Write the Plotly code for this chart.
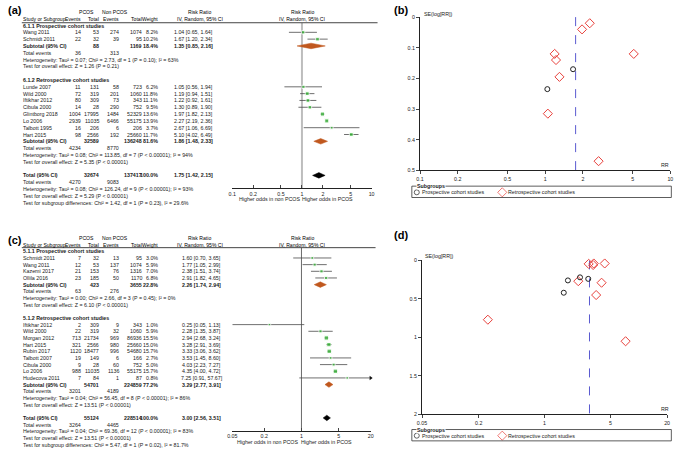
import math
import plotly.graph_objects as go

W, H = 678, 473
FONT = "Arial, Liberation Sans, sans-serif"
FONT_T = "Liberation Sans Narrow, Arial Narrow, Arial, sans-serif"
GREEN = "#2fb52f"
ORANGE = "#c0581e"
RED = "#e8413c"

# ---------------- (a) / (b) data ----------------
a_groups = ["6.1.1 Prospective cohort studies", "6.1.2 Retrospective cohort studies"]
a_study = ["Wang 2011", "Schmidt 2011", "Lunde 2007", "Wild 2000", "Iftikhar 2012",
           "Cibula 2000", "Glintborg 2018", "Lo 2006", "Talbott 1995", "Hart 2015"]
a_grp = [0, 0, 1, 1, 1, 1, 1, 1, 1, 1]
a_ev1 = [14, 22, 11, 72, 80, 14, 1004, 2939, 16, 98]
a_n1 = [53, 32, 131, 319, 309, 28, 17995, 11035, 206, 2566]
a_ev2 = [274, 39, 58, 201, 73, 290, 1484, 6466, 6, 192]
a_n2 = [1074, 95, 723, 1060, 343, 752, 52329, 55175, 206, 25660]
a_w = [8.2, 10.2, 6.2, 11.8, 11.1, 9.5, 13.6, 13.9, 3.7, 11.7]
a_rr = [1.04, 1.67, 1.05, 1.19, 1.22, 1.30, 1.97, 2.27, 2.67, 5.10]
a_lo = [0.65, 1.20, 0.56, 0.94, 0.92, 0.89, 1.82, 2.19, 1.06, 4.02]
a_hi = [1.64, 2.34, 1.94, 1.51, 1.61, 1.90, 2.13, 2.36, 6.69, 6.49]
a_se = [0.235, 0.17, 0.315, 0.12, 0.14, 0.195, 0.04, 0.02, 0.47, 0.12]
a_s_n1 = [88, 32589]
a_s_n2 = [1169, 136248]
a_s_w = [18.4, 81.6]
a_s_ev1 = [36, 4234]
a_s_ev2 = [313, 8770]
a_s_rr = [1.35, 1.86]
a_s_lo = [0.85, 1.48]
a_s_hi = [2.16, 2.33]
a_s_het = ["Heterogeneity: Tau² = 0.07; Chi² = 2.73, df = 1 (P = 0.10); I² = 63%",
           "Heterogeneity: Tau² = 0.08; Chi² = 113.85, df = 7 (P < 0.00001); I² = 94%"]
a_s_z = ["Test for overall effect: Z = 1.26 (P = 0.21)",
         "Test for overall effect: Z = 5.35 (P < 0.00001)"]
a_t_n = [32674, 137417]
a_t_ev = [4270, 9083]
a_t_ci = [1.75, 1.42, 2.15]
a_t_notes = ["Heterogeneity: Tau² = 0.08; Chi² = 126.24, df = 9 (P < 0.00001); I² = 93%",
             "Test for overall effect: Z = 5.29 (P < 0.00001)",
             "Test for subgroup differences: Chi² = 1.42, df = 1 (P = 0.23), I² = 29.6%"]
a_ticks = [0.1, 0.2, 0.5, 1, 2, 5, 10]
b_se_ticks = [0, 0.1, 0.2, 0.3, 0.4, 0.5]

# ---------------- (c) / (d) data ----------------
c_groups = ["5.1.1 Prospective cohort studies", "5.1.2 Retrospective cohort studies"]
c_study = ["Schmidt 2011", "Wang 2011", "Kazemi 2017", "Ollila 2016", "Iftikhar 2012",
           "Wild 2000", "Morgan 2012", "Hart 2015", "Rubin 2017", "Talbott 2007",
           "Cibula 2000", "Lo 2006", "Hudecova 2011"]
c_grp = [0, 0, 0, 0, 1, 1, 1, 1, 1, 1, 1, 1, 1]
c_ev1 = [7, 12, 21, 23, 2, 22, 713, 321, 1120, 19, 9, 988, 7]
c_n1 = [32, 53, 153, 185, 309, 319, 21734, 2566, 18477, 149, 28, 11035, 84]
c_ev2 = [13, 137, 76, 50, 9, 32, 969, 980, 996, 6, 60, 1136, 1]
c_n2 = [95, 1074, 1316, 1170, 343, 1060, 86936, 25660, 54680, 166, 752, 55175, 87]
c_w = [3.0, 5.9, 7.0, 6.8, 1.0, 5.9, 15.5, 15.0, 15.7, 2.7, 5.0, 15.7, 0.8]
c_rr = [1.60, 1.77, 2.38, 2.91, 0.25, 2.28, 2.94, 3.28, 3.33, 3.53, 4.03, 4.35, 7.25]
c_lo = [0.70, 1.05, 1.51, 1.82, 0.05, 1.35, 2.68, 2.91, 3.06, 1.45, 2.23, 4.00, 0.91]
c_hi = [3.65, 2.99, 3.74, 4.65, 1.13, 3.87, 3.24, 3.69, 3.62, 8.60, 7.27, 4.72, 57.67]
c_se = [0.42, 0.26, 0.22, 0.24, 0.77, 0.27, 0.045, 0.06, 0.04, 0.45, 0.29, 0.04, 1.05]
c_s_n1 = [423, 54701]
c_s_n2 = [3655, 224859]
c_s_w = [22.8, 77.2]
c_s_ev1 = [63, 3201]
c_s_ev2 = [276, 4189]
c_s_rr = [2.26, 3.29]
c_s_lo = [1.74, 2.77]
c_s_hi = [2.94, 3.91]
c_s_het = ["Heterogeneity: Tau² = 0.00; Chi² = 2.66, df = 3 (P = 0.45); I² = 0%",
           "Heterogeneity: Tau² = 0.04; Chi² = 56.45, df = 8 (P < 0.00001); I² = 86%"]
c_s_z = ["Test for overall effect: Z = 6.10 (P < 0.00001)",
         "Test for overall effect: Z = 13.51 (P < 0.00001)"]
c_t_n = [55124, 228514]
c_t_ev = [3264, 4465]
c_t_ci = [3.00, 2.56, 3.51]
c_t_notes = ["Heterogeneity: Tau² = 0.04; Chi² = 69.36, df = 12 (P < 0.00001); I² = 83%",
             "Test for overall effect: Z = 13.51 (P < 0.00001)",
             "Test for subgroup differences: Chi² = 5.47, df = 1 (P = 0.02), I² = 81.7%"]
c_ticks = [0.05, 0.2, 1, 5, 20]
d_se_ticks = [0, 0.5, 1, 1.5, 2]

A = dict(groups=a_groups, study=a_study, grp=a_grp, ev1=a_ev1, n1=a_n1, ev2=a_ev2, n2=a_n2,
         w=a_w, rr=a_rr, lo=a_lo, hi=a_hi, se=a_se, s_n1=a_s_n1, s_n2=a_s_n2, s_w=a_s_w,
         s_ev1=a_s_ev1, s_ev2=a_s_ev2, s_rr=a_s_rr, s_lo=a_s_lo, s_hi=a_s_hi, s_het=a_s_het,
         s_z=a_s_z, t_n=a_t_n, t_ev=a_t_ev, t_ci=a_t_ci, t_notes=a_t_notes)
C = dict(groups=c_groups, study=c_study, grp=c_grp, ev1=c_ev1, n1=c_n1, ev2=c_ev2, n2=c_n2,
         w=c_w, rr=c_rr, lo=c_lo, hi=c_hi, se=c_se, s_n1=c_s_n1, s_n2=c_s_n2, s_w=c_s_w,
         s_ev1=c_s_ev1, s_ev2=c_s_ev2, s_rr=c_s_rr, s_lo=c_s_lo, s_hi=c_s_hi, s_het=c_s_het,
         s_z=c_s_z, t_n=c_t_n, t_ev=c_t_ev, t_ci=c_t_ci, t_notes=c_t_notes)

COLS = [77.5, 96.5, 116, 140, 156]  # right edges of the number columns
NAME_X = 17.5
FS = 5.3
HS = 5.1  # header rows

fig = go.Figure()
ann, shapes = [], []


def px(x):
    return x / W


def py(y):
    return 1 - y / H


def txt(x, y, s, anchor="left", size=FS, bold=False, color="#1a1a1a", bg=None, family=FONT_T):
    s = str(s)
    d = dict(x=px(x), y=py(y), xref="paper", yref="paper", text="<b>%s</b>" % s if bold else s,
             showarrow=False, xanchor=anchor, yanchor="middle", borderpad=0,
             font=dict(size=size, color=color, family=family))
    if bg:
        d["bgcolor"] = bg
    ann.append(d)


def ci(r, l, h):
    return "%.2f [%.2f, %.2f]" % (r, l, h)


def table(p, top, step, rr_x):
    row = lambda i: top + i * step
    txt(82, row(0), "PCOS", "center", size=HS, color="#000")
    txt(111, row(0), "Non PCOS", "center", size=HS, color="#000")
    txt(197, row(0), "Risk Ratio", "center", size=HS, color="#000")
    txt(NAME_X, row(1), "Study or Subgroup", size=HS, color="#000")
    for x, s in zip(COLS, ["Events", "Total", "Events", "Total", "Weight"]):
        txt(x, row(1), s, "right", size=HS, color="#000")
    txt(197, row(1), "IV, Random, 95% CI", "center", size=HS, color="#000")

    ys, sub_y = {}, []
    i = 2
    for g, name in enumerate(p["groups"]):
        txt(NAME_X, row(i), name, bold=True)
        i += 1
        for j, gj in enumerate(p["grp"]):
            if gj != g:
                continue
            y = row(i)
            ys[j] = y
            txt(NAME_X, y, p["study"][j])
            vals = [p["ev1"][j], p["n1"][j], p["ev2"][j], p["n2"][j], "%.1f%%" % p["w"][j]]
            for x, v in zip(COLS, vals):
                txt(x, y, v, "right")
            txt(rr_x, y, ci(p["rr"][j], p["lo"][j], p["hi"][j]), "center")
            i += 1
        y = row(i)
        sub_y.append(y)
        txt(NAME_X, y, "Subtotal (95% CI)", bold=True)
        txt(COLS[1], y, p["s_n1"][g], "right", bold=True)
        txt(COLS[3], y, p["s_n2"][g], "right", bold=True)
        txt(COLS[4], y, "%.1f%%" % p["s_w"][g], "right", bold=True)
        txt(rr_x, y, ci(p["s_rr"][g], p["s_lo"][g], p["s_hi"][g]), "center", bold=True)
        i += 1
        y = row(i)
        txt(NAME_X, y, "Total events")
        txt(COLS[0], y, p["s_ev1"][g], "right")
        txt(COLS[2], y, p["s_ev2"][g], "right")
        i += 1
        txt(NAME_X, row(i), p["s_het"][g])
        i += 1
        txt(NAME_X, row(i), p["s_z"][g])
        i += 2
    tot_y = row(i)
    txt(NAME_X, tot_y, "Total (95% CI)", bold=True)
    txt(COLS[1], tot_y, p["t_n"][0], "right", bold=True)
    txt(COLS[3], tot_y, p["t_n"][1], "right", bold=True)
    txt(COLS[4], tot_y, "100.0%", "right", bold=True)
    txt(rr_x, tot_y, ci(*p["t_ci"]), "center", bold=True)
    i += 1
    txt(NAME_X, row(i), "Total events")
    txt(COLS[0], row(i), p["t_ev"][0], "right")
    txt(COLS[2], row(i), p["t_ev"][1], "right")
    i += 1
    for note in p["t_notes"]:
        txt(NAME_X, row(i), note)
        i += 1
    return ys, sub_y, tot_y


def diamond(r, l, h, y, color, xa, ya, half=2.8):
    fig.add_trace(go.Scatter(x=[l, r, h, r, l], y=[y, y - half, y, y + half, y], mode="lines",
                             fill="toself", fillcolor=color, line=dict(color=color, width=0.5),
                             xaxis=xa, yaxis=ya, hoverinfo="skip"))


def forest(p, ys, sub_y, tot_y, xa, ya, xmin, xmax, top, bottom, ref_color, ref_width):
    n = len(p["rr"])
    fig.add_trace(go.Scatter(x=[1, 1], y=[top, bottom], mode="lines",
                             line=dict(color=ref_color, width=ref_width),
                             xaxis=xa, yaxis=ya, hoverinfo="skip"))
    lx, ly = [], []
    for j in range(n):
        lx += [max(p["lo"][j], xmin), min(p["hi"][j], xmax), None]
        ly += [ys[j], ys[j], None]
    fig.add_trace(go.Scatter(x=lx, y=ly, mode="lines", line=dict(color="#4a4a4a", width=0.8),
                             xaxis=xa, yaxis=ya, hoverinfo="skip"))
    over = [j for j in range(n) if p["hi"][j] > xmax]
    if over:
        fig.add_trace(go.Scatter(x=[xmax] * len(over), y=[ys[j] for j in over], mode="markers",
                                 marker=dict(symbol="triangle-right", size=4, color="#111"),
                                 xaxis=xa, yaxis=ya, cliponaxis=False, hoverinfo="skip"))
    fig.add_trace(go.Scatter(x=p["rr"], y=[ys[j] for j in range(n)], mode="markers",
                             marker=dict(symbol="square", color=GREEN,
                                         size=[2.4 + w / 8 for w in p["w"]]),
                             xaxis=xa, yaxis=ya, hoverinfo="skip"))
    for g in range(len(sub_y)):
        diamond(p["s_rr"][g], p["s_lo"][g], p["s_hi"][g], sub_y[g], ORANGE, xa, ya)
    diamond(p["t_ci"][0], p["t_ci"][1], p["t_ci"][2], tot_y, "#000000", xa, ya)


def funnel(p, xa, ya, pooled, se_max):
    fig.add_trace(go.Scatter(x=[pooled, pooled], y=[0, se_max], mode="lines",
                             line=dict(color="#5a5ad0", width=1, dash="dash"),
                             xaxis=xa, yaxis=ya, hoverinfo="skip"))
    pro = [j for j in range(len(p["rr"])) if p["grp"][j] == 0]
    ret = [j for j in range(len(p["rr"])) if p["grp"][j] == 1]
    fig.add_trace(go.Scatter(x=[p["rr"][j] for j in ret], y=[p["se"][j] for j in ret],
                             mode="markers", cliponaxis=False,
                             marker=dict(symbol="diamond-open", size=7, color=RED, line=dict(width=1)),
                             xaxis=xa, yaxis=ya, hoverinfo="skip"))
    fig.add_trace(go.Scatter(x=[p["rr"][j] for j in pro], y=[p["se"][j] for j in pro],
                             mode="markers", cliponaxis=False,
                             marker=dict(symbol="circle-open", size=5, color="#222", line=dict(width=1)),
                             xaxis=xa, yaxis=ya, hoverinfo="skip"))


def legend_box(x0, x1, y0, y1):
    shapes.append(dict(type="rect", xref="paper", yref="paper", x0=px(x0), x1=px(x1),
                       y0=py(y0), y1=py(y1), line=dict(color="#333", width=0.8)))
    txt(x0 + 4, y0, "Subgroups", bold=True, bg="white")
    ym = (y0 + y1) / 2 + 0.5
    fig.add_trace(go.Scatter(x=[x0 + 5, x0 + 91.5], y=[ym, ym], mode="markers",
                             marker=dict(symbol=["circle-open", "diamond-open"], size=[5, 7],
                                         color=["#222", RED], line=dict(width=1)),
                             xaxis="x5", yaxis="y5", hoverinfo="skip"))
    txt(x0 + 9.5, ym, "Prospective cohort studies")
    txt(x0 + 96.5, ym, "Retrospective cohort studies")


# ---------- panel (a) ----------
A_TOP, A_STEP, A_AXIS, A_HDR = 9, 6.9, 187.7, 20
ys, sub_y, tot_y = table(A, A_TOP, A_STEP, 190.5)
forest(A, ys, sub_y, tot_y, "x", "y", 0.1, 10, A_HDR, A_AXIS, "#bdbdbd", 2)
shapes.append(dict(type="line", xref="paper", yref="paper", x0=px(17), x1=px(377),
                   y0=py(A_HDR), y1=py(A_HDR), line=dict(color="#444", width=1)))
txt(301, A_TOP, "Risk Ratio", "center", size=HS, color="#000")
txt(301, A_TOP + A_STEP, "IV, Random, 95% CI", "center", size=HS, color="#000")
txt(267.5, 198.5, "Higher odds in non PCOS", "center")
txt(326.5, 198.5, "Higher odds in PCOS", "center")
txt(2, 7, "(a)", size=11, bold=True, color="#000", family=FONT)

# ---------- panel (b) ----------
funnel(A, "x2", "y2", a_t_ci[0], 0.5)
txt(423, 11, "SE(log[RR])")
txt(673, 164.5, "RR", "right")
txt(393, 7, "(b)", size=11, bold=True, color="#000", family=FONT)
legend_box(411.7, 674.3, 185.5, 197)

# ---------- panel (c) ----------
C_TOP, C_STEP, C_AXIS, C_HDR = 238, 6.75, 433, 247.8
ys, sub_y, tot_y = table(C, C_TOP, C_STEP, 199)
forest(C, ys, sub_y, tot_y, "x3", "y3", 0.05, 20, C_HDR, C_AXIS, "#6a6a6a", 1)
shapes.append(dict(type="line", xref="paper", yref="paper", x0=px(17), x1=px(375),
                   y0=py(C_HDR), y1=py(C_HDR), line=dict(color="#444", width=1)))
txt(301, C_TOP, "Risk Ratio", "center", size=HS, color="#000")
txt(301, C_TOP + C_STEP, "IV, Random, 95% CI", "center", size=HS, color="#000")
txt(266, 445, "Higher odds in non PCOS", "center")
txt(325, 445, "Higher odds in PCOS", "center")
txt(2, 240, "(c)", size=11, bold=True, color="#000", family=FONT)

# ---------- panel (d) ----------
funnel(C, "x4", "y4", c_t_ci[0], 2)
txt(424, 256.5, "SE(log[RR])")
txt(673, 411.5, "RR", "right")
txt(393, 235, "(d)", size=11, bold=True, color="#000", family=FONT)
legend_box(411.7, 674.3, 432, 443.5)

tickfont = dict(size=FS, family=FONT_T, color="#1a1a1a")


def log_axis(x0, x1, lo, hi, vals, yanchor, ticks):
    return dict(type="log", domain=[px(x0), px(x1)], range=[math.log10(lo), math.log10(hi)],
                tickvals=vals, ticktext=[("%g" % v) for v in vals], ticks=ticks, ticklen=3,
                tickwidth=1, showline=True, linecolor="#222", linewidth=1, showgrid=False,
                zeroline=False, tickfont=tickfont, anchor=yanchor, fixedrange=True)


def px_yaxis(top, bottom, xanchor):
    return dict(domain=[py(bottom), py(top)], range=[bottom, top], visible=False,
                showgrid=False, zeroline=False, anchor=xanchor, fixedrange=True)


def se_axis(top, bottom, vals, xanchor):
    return dict(domain=[py(bottom), py(top)], range=[vals[-1], 0], tickvals=vals,
                ticktext=[("%g" % v) for v in vals], ticks="outside", ticklen=3, tickwidth=1,
                showline=True, linecolor="#222", linewidth=1, showgrid=False, zeroline=False,
                tickfont=tickfont, anchor=xanchor, fixedrange=True)


fig.update_layout(
    width=W, height=H, margin=dict(l=0, r=0, t=0, b=0),
    paper_bgcolor="white", plot_bgcolor="rgba(0,0,0,0)", showlegend=False,
    font=dict(family=FONT, size=6, color="#1a1a1a"),
    xaxis=log_axis(230, 371, 0.1, 10, a_ticks, "y", "inside"),
    yaxis=px_yaxis(A_HDR, A_AXIS, "x"),
    xaxis2=log_axis(420, 673.3, 0.1, 10, a_ticks, "y2", "outside"),
    yaxis2=se_axis(14.3, 169.5, b_se_ticks, "x2"),
    xaxis3=log_axis(230, 370, 0.05, 20, c_ticks, "y3", "inside"),
    yaxis3=px_yaxis(C_HDR, C_AXIS, "x3"),
    xaxis4=log_axis(422, 670, 0.05, 20, c_ticks, "y4", "outside"),
    yaxis4=se_axis(260.7, 416.7, d_se_ticks, "x4"),
    xaxis5=dict(domain=[0, 1], range=[0, W], visible=False, fixedrange=True, anchor="y5"),
    yaxis5=dict(domain=[0, 1], range=[H, 0], visible=False, fixedrange=True, anchor="x5"),
    annotations=ann, shapes=shapes,
)

# the page's default body margin would push the 678x473 figure off the window
fig.write_html("out.html", config={"displayModeBar": False},
               post_script="document.body.style.margin = '0';")
